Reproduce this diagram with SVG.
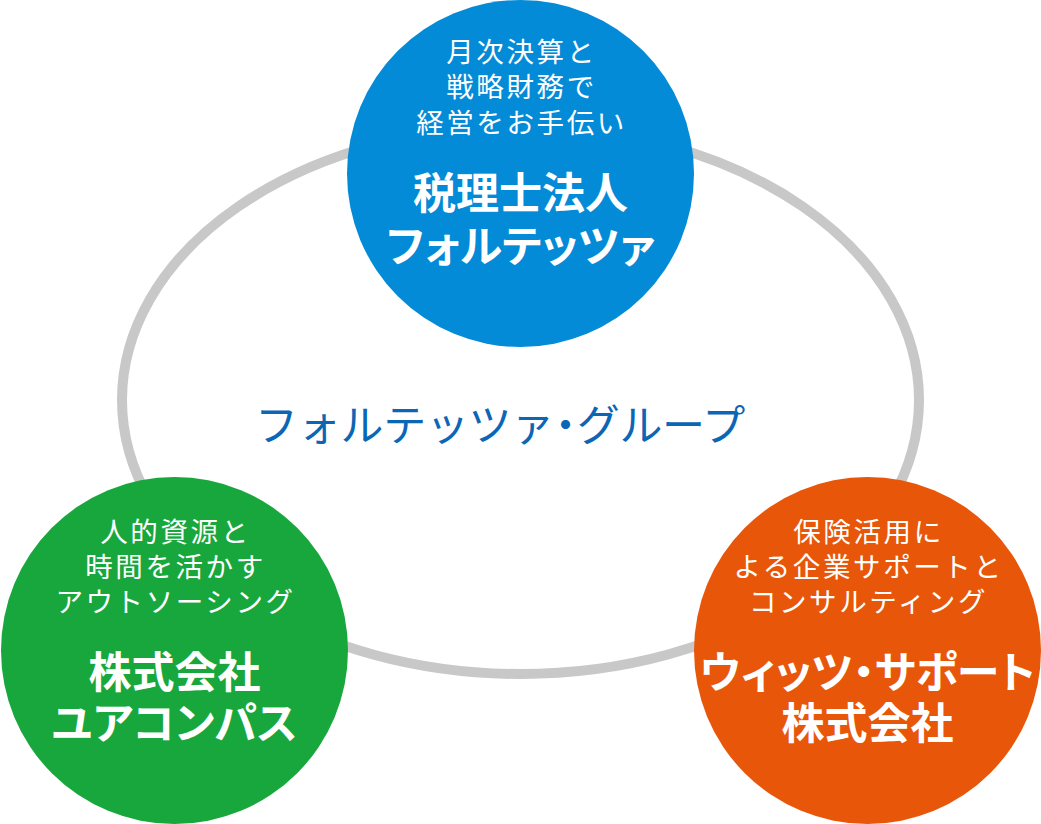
<svg xmlns="http://www.w3.org/2000/svg" width="1041" height="824" viewBox="0 0 1041 824">
<style>
.sub{font-family:"Noto Sans CJK JP","Noto Sans CJK SC",sans-serif;font-size:27.5px;letter-spacing:2.6px;fill:#ffffff;text-anchor:middle}
.head{font-family:"Noto Sans CJK JP","Noto Sans CJK SC",sans-serif;font-size:43px;font-weight:700;fill:#ffffff;text-anchor:middle;font-feature-settings:"palt"}
.title{font-family:"Noto Sans CJK JP","Noto Sans CJK SC",serif;font-size:43px;letter-spacing:-0.3px;fill:#0b66b5;text-anchor:middle}
</style>
<rect width="1041" height="824" fill="#ffffff"/>
<g id="connectors">
<ellipse cx="520.5" cy="400" rx="398.5" ry="274" fill="none" stroke="#c8c8c8" stroke-width="10"/>
</g>
<g id="group-title">
<text class="title" x="500" y="441">フォルテッツァ<tspan dx="-10">・</tspan><tspan dx="-10">グループ</tspan></text>
</g>
<g id="node-fortezza">
<circle cx="520.5" cy="173.5" r="173.5" fill="#038bd7"/>
<text class="sub" x="521.5" y="62">月次決算と</text>
<text class="sub" x="521.5" y="97">戦略財務で</text>
<text class="sub" x="521.5" y="133">経営をお手伝い</text>
<text class="head" x="520.5" y="209">税理士法人</text>
<text class="head" x="520.5" y="262">フォルテッツァ</text>
</g>
<g id="node-yourcompass">
<circle cx="174.5" cy="650.5" r="173.5" fill="#18a73c"/>
<text class="sub" x="175.5" y="542">人的資源と</text>
<text class="sub" x="175.5" y="577">時間を活かす</text>
<text class="sub" x="175.5" y="612">アウトソーシング</text>
<text class="head" x="174.5" y="688">株式会社</text>
<text class="head" x="174.5" y="739">ユアコンパス</text>
</g>
<g id="node-witssupport">
<circle cx="867.5" cy="650.5" r="173.5" fill="#e8560a"/>
<text class="sub" x="868.5" y="542">保険活用に</text>
<text class="sub" x="868.5" y="577">よる企業サポートと</text>
<text class="sub" x="868.5" y="612">コンサルティング</text>
<text class="head" x="867.5" y="688">ウィッツ・サポート</text>
<text class="head" x="867.5" y="739">株式会社</text>
</g>
</svg>
